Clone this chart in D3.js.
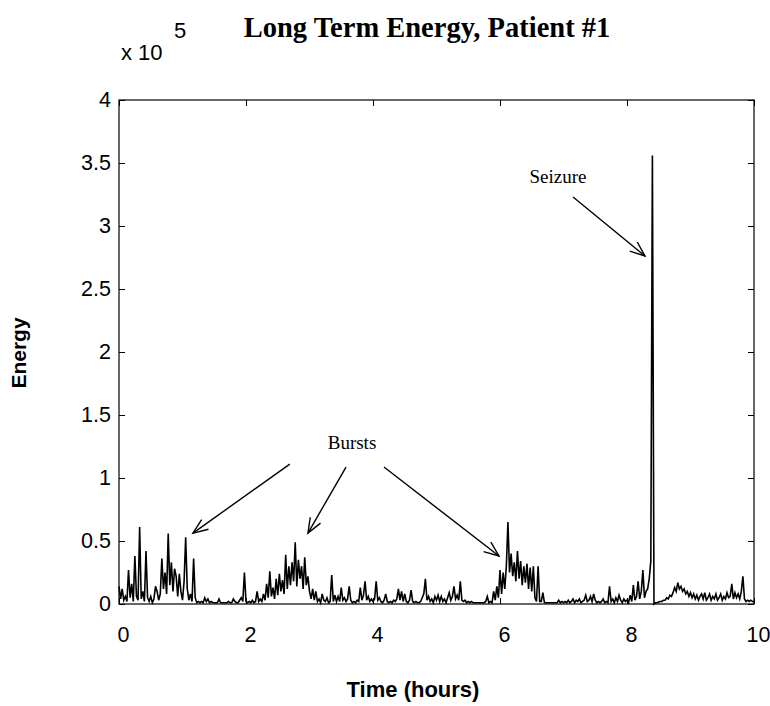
<!DOCTYPE html>
<html>
<head>
<meta charset="utf-8">
<script src="https://cdn.jsdelivr.net/npm/d3@7"></script>
<style>
  body { margin: 0; background: #fff; }
  svg { display: block; }
</style>
</head>
<body>
<script>
// Energy in units of 10^5, sampled every 0.025 hours from t = 0
var t0 = 0, dt = 0.025;
var energy0 = [0.14,0.04,0.12,0.03,0.06,0.02,0.27,0.05,0.16,0.02,0.38,0.06,0.03,0.61,0.04,0.10,0.02,0.42,0.05,0.02,
               0.06,0.01,0.04,0.14,0.10,0.03,0.08,0.36,0.12,0.25,0.08,0.56,0.15,0.33,0.10,0.28,0.22,0.06,0.24,0.10];
var energy1 = [0.03,0.18,0.53,0.12,0.03,0.08,0.02,0.36,0.05,0.01,0.02,0.01,0.02,0.01,0.05,0.02,0.04,0.01,0.02,0.01,
               0.01,0.01,0.01,0.04,0.01,0.01,0.01,0.01,0.01,0.02,0.01,0.01,0.04,0.02,0.01,0.01,0.03,0.05,0.02,0.25];
var energy2 = [0.02,0.01,0.02,0.01,0.03,0.01,0.02,0.10,0.02,0.04,0.02,0.08,0.03,0.16,0.05,0.26,0.06,0.13,0.04,0.20,
               0.07,0.24,0.10,0.19,0.08,0.39,0.12,0.30,0.15,0.33,0.18,0.49,0.14,0.35,0.20,0.30,0.12,0.37,0.15,0.22];
var energy3 = [0.10,0.04,0.12,0.03,0.10,0.02,0.04,0.01,0.08,0.03,0.02,0.05,0.01,0.02,0.23,0.02,0.07,0.02,0.06,0.02,
               0.13,0.03,0.05,0.02,0.04,0.14,0.03,0.01,0.02,0.01,0.03,0.02,0.13,0.03,0.07,0.18,0.03,0.06,0.02,0.04];
var energy4 = [0.02,0.04,0.18,0.03,0.05,0.02,0.01,0.03,0.08,0.02,0.01,0.02,0.01,0.03,0.02,0.04,0.12,0.03,0.10,0.02,
               0.08,0.02,0.01,0.03,0.11,0.02,0.01,0.02,0.01,0.01,0.02,0.05,0.08,0.20,0.03,0.06,0.02,0.04,0.01,0.06];
var energy5 = [0.03,0.07,0.02,0.06,0.02,0.04,0.01,0.05,0.09,0.03,0.06,0.14,0.04,0.07,0.03,0.18,0.03,0.02,0.03,0.01,
               0.02,0.01,0.02,0.01,0.01,0.01,0.01,0.01,0.01,0.01,0.01,0.02,0.06,0.01,0.02,0.01,0.10,0.03,0.14,0.05];
var energy6 = [0.27,0.08,0.25,0.12,0.30,0.65,0.25,0.40,0.22,0.33,0.18,0.42,0.20,0.34,0.15,0.30,0.17,0.32,0.12,0.29,
               0.10,0.30,0.05,0.02,0.30,0.02,0.02,0.09,0.01,0.01,0.01,0.01,0.01,0.01,0.01,0.01,0.01,0.03,0.01,0.02];
var energy7 = [0.01,0.02,0.01,0.03,0.01,0.02,0.04,0.01,0.03,0.02,0.04,0.01,0.02,0.03,0.07,0.02,0.03,0.06,0.02,0.08,
               0.03,0.01,0.02,0.01,0.02,0.04,0.01,0.02,0.01,0.14,0.02,0.04,0.01,0.05,0.02,0.07,0.03,0.01,0.04,0.02];
var energy8 = [0.03,0.01,0.07,0.02,0.15,0.03,0.06,0.18,0.04,0.10,0.27,0.05,0.10,0.12,0.20,0.34,3.56,0.00,0.01,0.01,
               0.015,0.02,0.02,0.03,0.03,0.05,0.04,0.07,0.06,0.09,0.13,0.10,0.17,0.12,0.14,0.10,0.12,0.08,0.10,0.06];
var energy9 = [0.09,0.05,0.08,0.04,0.07,0.03,0.06,0.08,0.04,0.09,0.03,0.05,0.08,0.03,0.06,0.04,0.08,0.03,0.05,0.08,
               0.03,0.06,0.04,0.09,0.05,0.06,0.16,0.04,0.09,0.05,0.08,0.04,0.10,0.22,0.04,0.02,0.03,0.02,0.03,0.02,0.02];

var xTicks = [0, 2, 4, 6, 8, 10];
var yTicks = [0, 0.5, 1, 1.5, 2, 2.5, 3, 3.5, 4];

// arrows: [tail hours, tail energy, head hours, head energy]
var burstArrows = [[2.69, 1.11, 1.165, 0.563], [3.575, 1.087, 2.976, 0.563], [4.173, 1.087, 5.984, 0.381]];
var seizureArrow = [7.15, 3.23, 8.283, 2.762];

var w = 770, h = 706;

var series = [].concat(energy0, energy1, energy2, energy3, energy4, energy5, energy6, energy7, energy8, energy9)
  .map(function(v, i) { return { t: t0 + i * dt, e: v }; });

var x = d3.scaleLinear().domain([0, 10]).range([119, 754]);
var y = d3.scaleLinear().domain([0, 4]).range([604, 100]);

var sans = "'Liberation Sans', Arial, sans-serif";
var serif = "'Liberation Serif', 'Times New Roman', serif";

var svg = d3.select("body").append("svg")
  .attr("width", w)
  .attr("height", h)
  .style("font-family", sans);

svg.append("rect").attr("width", w).attr("height", h).attr("fill", "#fff");

// Axes, ticks pointing inwards on all four sides
var fmt = function(d) { return d; };
var ax = [
  svg.append("g").attr("transform", "translate(0," + y(0) + ")")
     .call(d3.axisBottom(x).tickValues(xTicks).tickFormat(fmt).tickSize(-6).tickSizeOuter(0).tickPadding(23)),
  svg.append("g").attr("transform", "translate(0," + y(4) + ")")
     .call(d3.axisTop(x).tickValues(xTicks).tickFormat("").tickSize(-6).tickSizeOuter(0)),
  svg.append("g").attr("transform", "translate(" + x(0) + ",0)")
     .call(d3.axisLeft(y).tickValues(yTicks).tickFormat(fmt).tickSize(-6).tickSizeOuter(0).tickPadding(8)),
  svg.append("g").attr("transform", "translate(" + x(10) + ",0)")
     .call(d3.axisRight(y).tickValues(yTicks).tickFormat("").tickSize(-6).tickSizeOuter(0))
];
ax.forEach(function(g) {
  g.select(".domain").remove();
  g.selectAll("line").attr("stroke", "#000");
  g.selectAll("text").attr("font-size", 21.5).attr("font-family", sans).attr("fill", "#000");
});
ax[0].selectAll("text").attr("dx", 4);

svg.append("rect")
  .attr("x", x(0)).attr("y", y(4))
  .attr("width", x(10) - x(0)).attr("height", y(0) - y(4))
  .attr("fill", "none").attr("stroke", "#000").attr("stroke-width", 1.2);

// the energy trace
var line = d3.line().x(function(d) { return x(d.t); }).y(function(d) { return y(d.e); });
svg.append("path")
  .datum(series)
  .attr("d", line)
  .attr("fill", "none")
  .attr("stroke", "#000")
  .attr("stroke-width", 1.6)
  .attr("stroke-linejoin", "miter");

// multiplier
svg.append("text").attr("x", 121).attr("y", 60).attr("font-size", 22).text("x 10");
svg.append("text").attr("x", 174).attr("y", 38).attr("font-size", 22).text("5");

// title and axis labels
svg.append("text")
  .attr("x", 427).attr("y", 37)
  .attr("text-anchor", "middle")
  .attr("font-family", serif)
  .attr("font-weight", "bold")
  .attr("font-size", 28.5)
  .text("Long Term Energy, Patient #1");

svg.append("text")
  .attr("x", 413).attr("y", 697)
  .attr("text-anchor", "middle")
  .attr("font-weight", "bold")
  .attr("font-size", 22)
  .text("Time (hours)");

svg.append("text")
  .attr("transform", "translate(26,353) rotate(-90)")
  .attr("text-anchor", "middle")
  .attr("font-weight", "bold")
  .attr("font-size", 21)
  .text("Energy");

// annotations
function arrow(a) {
  var x1 = x(a[0]), y1 = y(a[1]), x2 = x(a[2]), y2 = y(a[3]);
  var ang = Math.atan2(y2 - y1, x2 - x1), len = 16, spread = 0.38;
  var g = svg.append("g").attr("stroke", "#000").attr("stroke-width", 1.4).attr("fill", "none");
  g.append("line").attr("x1", x1).attr("y1", y1).attr("x2", x2).attr("y2", y2);
  g.append("path").attr("d",
    "M" + (x2 - len * Math.cos(ang - spread)) + "," + (y2 - len * Math.sin(ang - spread)) +
    "L" + x2 + "," + y2 +
    "L" + (x2 - len * Math.cos(ang + spread)) + "," + (y2 - len * Math.sin(ang + spread)));
}
burstArrows.forEach(arrow);
arrow(seizureArrow);

svg.append("text").attr("x", 352).attr("y", 449).attr("text-anchor", "middle")
  .attr("font-family", serif).attr("font-size", 19).text("Bursts");
svg.append("text").attr("x", 558).attr("y", 183).attr("text-anchor", "middle")
  .attr("font-family", serif).attr("font-size", 19).text("Seizure");
</script>
</body>
</html>
